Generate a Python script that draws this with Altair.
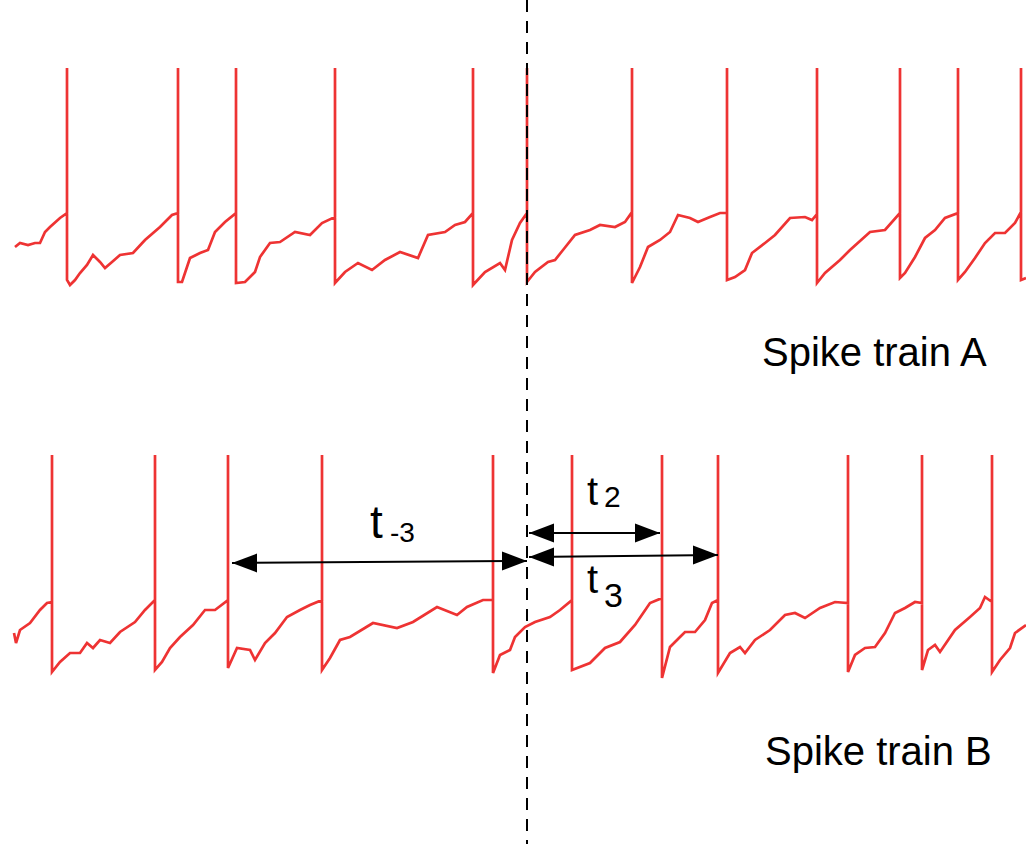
import altair as alt
import pandas as pd

# ---------------- data (time in arbitrary units, level in arbitrary units; level axis points down) ----------------
A_spikes = [67, 178, 236, 335, 473, 527, 632, 727, 817, 900, 958, 1021]
A_peak = 68
A_segments = [
    [(15, 247), (20, 243), (28, 245), (35, 243), (40, 243), (45, 232), (50, 227), (60, 218), (67, 213)],
    [(67, 280), (70, 285), (75, 280), (80, 273), (87, 265), (93, 255), (100, 262), (105, 268), (112, 262),
     (120, 255), (133, 253), (145, 240), (160, 227), (172, 215), (178, 213)],
    [(178, 282), (182, 282), (190, 258), (200, 253), (208, 250), (215, 232), (225, 222), (236, 213)],
    [(236, 283), (245, 282), (255, 272), (260, 257), (270, 243), (280, 242), (295, 232), (310, 235),
     (322, 223), (335, 217)],
    [(335, 283), (345, 272), (358, 263), (372, 270), (385, 260), (400, 252), (418, 258), (428, 235),
     (445, 232), (455, 225), (465, 222), (473, 213)],
    [(473, 285), (485, 272), (500, 263), (505, 270), (512, 240), (520, 223), (527, 213)],
    [(527, 282), (535, 272), (548, 262), (555, 260), (563, 250), (575, 235), (590, 230), (600, 225),
     (615, 227), (625, 222), (632, 212)],
    [(632, 283), (640, 267), (648, 247), (660, 240), (670, 232), (678, 215), (690, 218), (698, 222),
     (710, 217), (720, 213), (727, 213)],
    [(727, 280), (735, 277), (745, 270), (752, 253), (765, 243), (775, 235), (790, 218), (805, 217),
     (812, 220), (817, 214)],
    [(817, 283), (825, 273), (840, 260), (850, 250), (870, 232), (885, 230), (900, 213)],
    [(900, 278), (905, 273), (915, 257), (925, 238), (935, 230), (945, 218), (958, 213)],
    [(958, 280), (965, 272), (975, 258), (985, 243), (995, 233), (1005, 233), (1015, 223), (1021, 212)],
    [(1021, 280), (1026, 278)],
]

B_spikes = [52, 155, 228, 322, 493, 572, 662, 718, 848, 922, 992]
B_peak = 455
B_segments = [
    [(14, 633), (16, 643), (20, 630), (30, 623), (40, 610), (47, 603), (52, 602)],
    [(52, 672), (60, 662), (70, 653), (80, 653), (87, 643), (93, 648), (100, 640), (110, 643), (120, 632),
     (135, 622), (145, 610), (155, 600)],
    [(155, 670), (162, 662), (170, 648), (180, 637), (193, 625), (205, 610), (215, 610), (228, 600)],
    [(228, 668), (237, 648), (250, 650), (255, 660), (265, 643), (275, 633), (287, 617), (300, 610),
     (310, 605), (322, 600)],
    [(322, 670), (330, 658), (340, 640), (350, 637), (373, 623), (397, 628), (413, 622), (437, 607),
     (457, 615), (467, 607), (483, 600), (493, 600)],
    [(493, 673), (500, 655), (510, 650), (515, 637), (525, 627), (535, 622), (550, 617), (560, 610),
     (572, 600)],
    [(572, 670), (590, 663), (605, 648), (620, 642), (635, 625), (650, 603), (662, 598)],
    [(662, 678), (670, 647), (680, 637), (685, 632), (695, 632), (705, 620), (712, 603), (718, 600)],
    [(718, 673), (730, 653), (740, 647), (745, 653), (755, 640), (770, 630), (785, 615), (795, 613),
     (805, 618), (820, 608), (835, 602), (848, 603)],
    [(848, 672), (855, 655), (865, 648), (875, 647), (885, 633), (895, 613), (905, 608), (915, 602),
     (922, 603)],
    [(922, 670), (928, 650), (935, 645), (940, 652), (955, 630), (970, 617), (980, 608), (985, 597),
     (992, 602)],
    [(992, 672), (1000, 660), (1010, 648), (1015, 633), (1026, 625)],
]

ref_time = 527
ref_span = [0, 844]

# interval arrows: (start time, end time, level at start, level at end)
arrow_names = ["t-3", "t2", "t3"]
arrow_t0 = [232, 529, 529]
arrow_t1 = [527, 660, 718]
arrow_v0 = [563, 533, 557]
arrow_v1 = [561, 533, 555]

# labels
label_text = ["t", "-3", "t", "2", "t", "3", "Spike train A", "Spike train B"]
label_t = [370, 390, 587, 604, 587, 604, 762, 765]
label_v = [538, 542, 505, 507, 593, 607, 366, 765]
label_fs = [46, 28, 40, 30, 40, 34, 40, 40]

# ---------------- build tables ----------------
def trace_rows(name, spikes, peak, segments):
    rows = []
    k = 0
    for i, seg in enumerate(segments):
        for t, v in seg:
            rows.append({"train": name, "t": t, "v": v, "k": k})
            k += 1
        if i < len(spikes):
            rows.append({"train": name, "t": spikes[i], "v": peak, "k": k})
            k += 1
    return rows

traces = pd.DataFrame(trace_rows("A", A_spikes, A_peak, A_segments) +
                      trace_rows("B", B_spikes, B_peak, B_segments))

arrows = pd.DataFrame({"name": arrow_names, "t0": arrow_t0, "t1": arrow_t1,
                       "v0": arrow_v0, "v1": arrow_v1})
heads_left = pd.DataFrame({"t": arrow_t0, "v": arrow_v0})
heads_right = pd.DataFrame({"t": arrow_t1, "v": arrow_v1})
labels = pd.DataFrame({"text": label_text, "t": label_t, "v": label_v, "fs": label_fs})
ref = pd.DataFrame({"t": [ref_time], "v0": [ref_span[0]], "v1": [ref_span[1]]})

W, H = 1026, 844
xs = alt.Scale(domain=[0, W])
ys = alt.Scale(domain=[0, H], reverse=True)
X = lambda f: alt.X(f, type="quantitative", scale=xs, axis=None)
Y = lambda f: alt.Y(f, type="quantitative", scale=ys, axis=None)

trace_layer = alt.Chart(traces).mark_line(color="#ee3333", strokeWidth=2.7, strokeJoin="miter").encode(
    x=X("t"), y=Y("v"), detail="train:N", order="k:Q")

ref_layer = alt.Chart(ref).mark_rule(color="black", strokeWidth=2, strokeDash=[12, 9]).encode(
    x=X("t"), y=Y("v0"), y2="v1")

shaft_layer = alt.Chart(arrows).mark_rule(color="black", strokeWidth=2).encode(
    x=X("t0"), x2="t1", y=Y("v0"), y2="v1")

left_layer = alt.Chart(heads_left).mark_point(
    shape="M0,0L1,-0.38L1,0.38Z", filled=True, size=2500, color="black", opacity=1, strokeWidth=0
).encode(x=X("t"), y=Y("v"))

right_layer = alt.Chart(heads_right).mark_point(
    shape="M0,0L-1,-0.38L-1,0.38Z", filled=True, size=2500, color="black", opacity=1, strokeWidth=0
).encode(x=X("t"), y=Y("v"))

text_layer = alt.Chart(labels).mark_text(
    align="left", baseline="alphabetic", font="Liberation Sans", color="black"
).encode(x=X("t"), y=Y("v"), text="text:N", size=alt.Size("fs:Q", scale=None))

chart = alt.layer(trace_layer, ref_layer, shaft_layer, left_layer, right_layer, text_layer).properties(
    width=W, height=H, padding=0, autosize=alt.AutoSizeParams(type="none"),
    background="white"
).configure_view(stroke=None)

chart.save("out.html", embed_options={"renderer": "svg", "actions": False})
